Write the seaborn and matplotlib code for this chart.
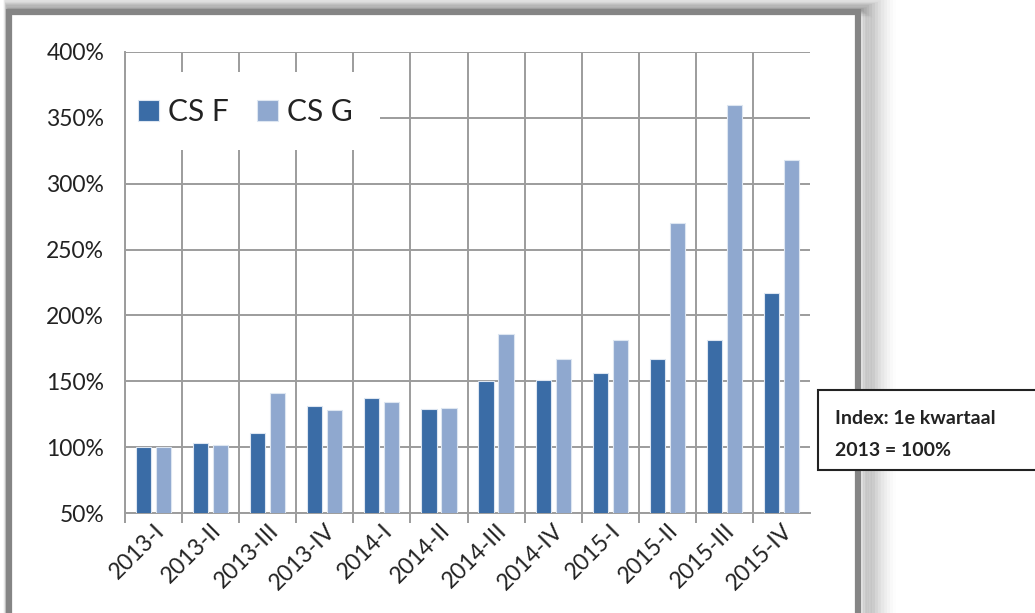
import numpy as np
import pandas as pd
import matplotlib
matplotlib.use("Agg")
import matplotlib.pyplot as plt
from matplotlib.patches import Rectangle
from matplotlib.ticker import FuncFormatter, MultipleLocator
import seaborn as sns

# chart data (index, 1e kwartaal 2013 = 100%)
quarters = ["2013-I", "2013-II", "2013-III", "2013-IV",
            "2014-I", "2014-II", "2014-III", "2014-IV",
            "2015-I", "2015-II", "2015-III", "2015-IV"]
cs_f = [100, 103, 111, 131, 137, 129, 150, 151, 156, 167, 181, 217]
cs_g = [100, 102, 141, 128, 134, 130, 186, 167, 181, 270, 360, 318]
series_names = ["CS F", "CS G"]
colors = ["#3a6ca6", "#8fa8cf"]

df = pd.DataFrame({
    "quarter": quarters * 2,
    "series": [series_names[0]] * len(quarters) + [series_names[1]] * len(quarters),
    "value": cs_f + cs_g,
})

sns.set_theme(style="white")
plt.rcParams["font.family"] = ["Lato", "DejaVu Sans"]

W, H = 1035, 613
fig = plt.figure(figsize=(W / 100, H / 100), dpi=100)
fig.patch.set_facecolor("white")

# helpers: pixel -> figure fraction
def fx(px):
    return px / W

def fy(py):
    return 1 - py / H

# outer chart frame with a soft shadow
x0, y0, x1, y1 = 9, 12, 858, 640
for k in range(12):
    a = 0.09 * (1 - k / 12)
    fig.patches.append(Rectangle((fx(x0 - 1 + k * 0.5), fy(y1)), fx(x1 - x0 + 5 + k * 1.5),
                                 fy(y0 - 3 - k * 0.3) - fy(y1),
                                 transform=fig.transFigure, facecolor="none",
                                 edgecolor="#3a3a3a", alpha=a, lw=2 + k * 1.3, zorder=0))
fig.patches.append(Rectangle((fx(x0), fy(y1)), fx(x1 - x0), fy(y0) - fy(y1),
                             transform=fig.transFigure, facecolor="white",
                             edgecolor="#858585", lw=4.5, zorder=1))

ax_l, ax_r, ax_t, ax_b = 125, 810, 52, 513
ax = fig.add_axes([fx(ax_l), fy(ax_b), fx(ax_r) - fx(ax_l), fy(ax_t) - fy(ax_b)])
ax.set_zorder(2)
ax.patch.set_alpha(0)

sns.barplot(data=df, x="quarter", y="value", hue="series", palette=colors,
            saturation=1, width=0.7, gap=0.24, edgecolor="#dde6f1", linewidth=0.8,
            ax=ax, zorder=3)

ax.set_ylim(50, 400)
ax.set_xlim(-0.5, len(quarters) - 0.5)
ax.yaxis.set_major_locator(MultipleLocator(50))
ax.yaxis.set_major_formatter(FuncFormatter(lambda v, p: f"{v:.0f}%"))
ax.set_xticks(np.arange(len(quarters)) - 0.5, minor=True)
ax.set_xlabel("")
ax.set_ylabel("")

gcol = "#9c9c9c"
ax.grid(True, axis="y", which="major", color=gcol, lw=1.4, zorder=0)
ax.grid(True, axis="x", which="minor", color=gcol, lw=1.4, zorder=0)
ax.grid(False, axis="x", which="major")
for s in ["top", "right"]:
    ax.spines[s].set_visible(False)
for s in ["left", "bottom"]:
    ax.spines[s].set_color(gcol)
    ax.spines[s].set_linewidth(1.4)

ax.tick_params(axis="y", which="major", length=7, width=1.4, color=gcol,
               labelsize=16.5, labelcolor="#222222", pad=8)
ax.tick_params(axis="x", which="major", length=0, labelsize=16.5,
               labelcolor="#222222", pad=5)
ax.tick_params(axis="x", which="minor", length=7, width=1.4, color=gcol, bottom=True)
plt.setp(ax.get_xticklabels(), rotation=45, ha="right", rotation_mode="anchor")

# white area behind the legend, hiding the grid there
aw, ah = ax_r - ax_l, ax_b - ax_t
ax.add_patch(Rectangle((0, (ax_b - 150) / ah), (380 - ax_l) / aw, (150 - 72) / ah,
                       transform=ax.transAxes, facecolor="white", edgecolor="none",
                       zorder=1))

leg = ax.legend(loc="center left", bbox_to_anchor=((138 - ax_l) / aw, (ax_b - 112) / ah),
                ncol=2, fontsize=21.5, frameon=False, borderpad=0,
                handlelength=0.7, handleheight=0.7, handletextpad=0.3,
                columnspacing=0.95, borderaxespad=0)
leg.set_zorder(5)
for t in leg.get_texts():
    t.set_color("#222222")

# annotation box on the right
fig.patches.append(Rectangle((fx(818), fy(470)), fx(W + 20 - 818), fy(390) - fy(470),
                             transform=fig.transFigure, facecolor="white",
                             edgecolor="#222222", lw=1.5, zorder=5))
fig.text(fx(835), fy(418), "Index: 1e kwartaal", fontsize=14, fontweight="bold",
         color="#222222", va="center", ha="left", zorder=6)
fig.text(fx(835), fy(451), "2013 = 100%", fontsize=14, fontweight="bold",
         color="#222222", va="center", ha="left", zorder=6)

fig.savefig("out.png", dpi=100)
